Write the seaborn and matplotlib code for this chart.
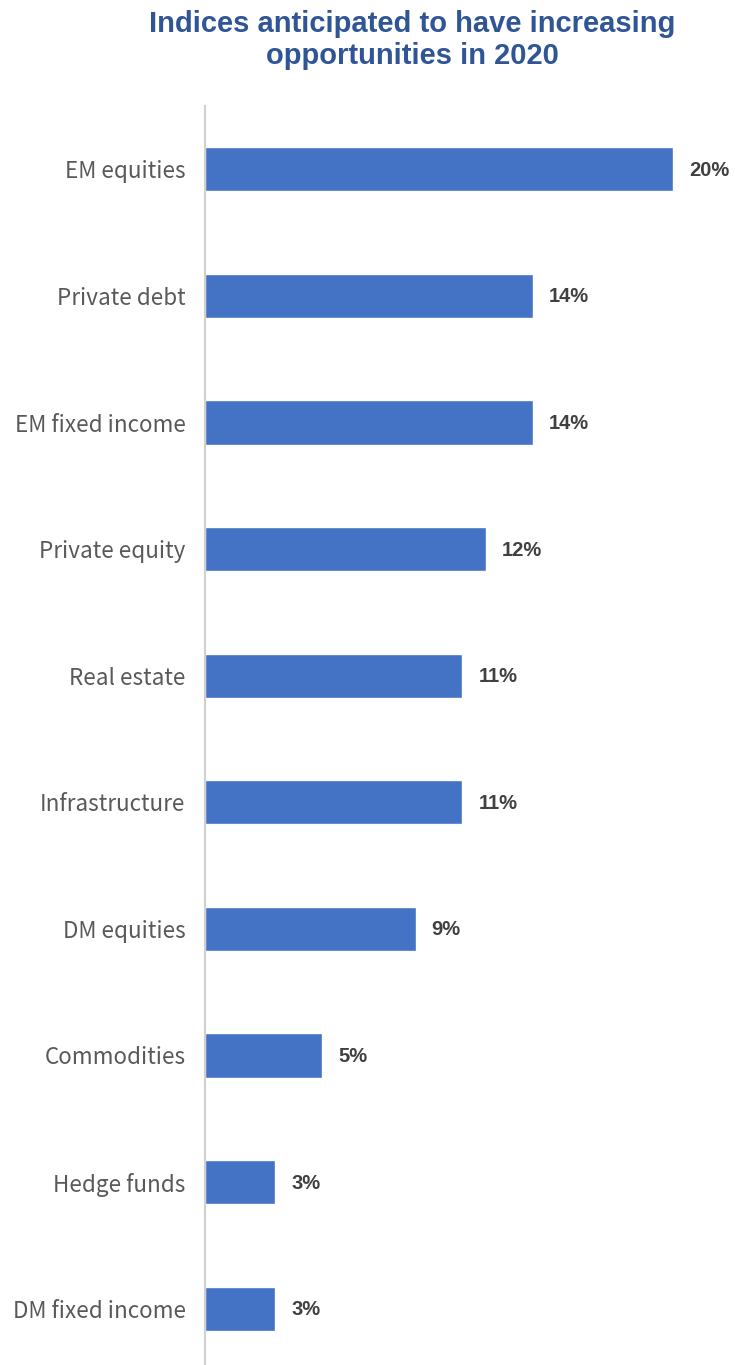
import matplotlib
matplotlib.use("Agg")
import matplotlib.pyplot as plt
import seaborn as sns
import pandas as pd

categories = ["EM equities", "Private debt", "EM fixed income", "Private equity",
              "Real estate", "Infrastructure", "DM equities", "Commodities",
              "Hedge funds", "DM fixed income"]
shares = [20, 14, 14, 12, 11, 11, 9, 5, 3, 3]
value_labels = ["20%", "14%", "14%", "12%", "11%", "11%", "9%", "5%", "3%", "3%"]

df = pd.DataFrame({"category": categories, "share": shares})

sns.set_theme(style="white")
plt.rcParams["font.family"] = ["Noto Sans CJK SC", "DejaVu Sans"]

fig = plt.figure(figsize=(7.35, 13.65), dpi=100)
ax = fig.add_axes([205 / 735, -7 / 1365, 530 / 735, 1266 / 1365])

sns.barplot(data=df, x="share", y="category", color="#4472C4", width=0.35,
            saturation=1, ax=ax, orient="h")

ax.set_xlim(0, 530 / 23.4)
ax.set_ylim(9.5, -0.5)
ax.set_xlabel("")
ax.set_ylabel("")
ax.set_xticks([])
for side in ["top", "right", "bottom"]:
    ax.spines[side].set_visible(False)
ax.spines["left"].set_color("#D0D0D0")
ax.spines["left"].set_linewidth(1.5)

ax.tick_params(axis="y", length=0, pad=14)
for lab in ax.get_yticklabels():
    lab.set_fontsize(16.2)
    lab.set_color("#595959")
    lab.set_fontweight("light")

for i, (v, t) in enumerate(zip(shares, value_labels)):
    ax.annotate(t, xy=(v, i), xytext=(16, -1), textcoords="offset pixels",
                ha="left", va="center", fontsize=14.5, fontweight="bold",
                color="#404040", family=["Liberation Sans Narrow", "Liberation Sans", "DejaVu Sans"])

fig.text(412 / 735, 1 - 40 / 1365, "Indices anticipated to have increasing\nopportunities in 2020",
         ha="center", va="center", fontsize=21, fontweight="bold", color="#2F5597",
         family=["Liberation Sans", "DejaVu Sans"], linespacing=1.2)

fig.savefig("out.png", dpi=100)
